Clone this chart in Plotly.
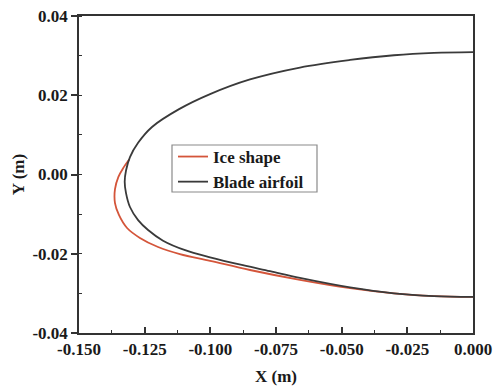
import plotly.graph_objects as go

# Blade airfoil leading-edge contour (m), upper surface -> nose -> lower surface
airfoil_x = [0.0000, -0.0149, -0.0301, -0.0468, -0.0659, -0.0849, -0.1001, -0.1119,
             -0.1222, -0.1275, -0.1306, -0.1321, -0.1326, -0.1321, -0.1306, -0.1275,
             -0.1237, -0.1180, -0.1096, -0.1001, -0.0876, -0.0773, -0.0659, -0.0468,
             -0.0301, -0.0149, 0.0000]
airfoil_y = [0.0309, 0.0307, 0.0301, 0.0289, 0.0270, 0.0240, 0.0203, 0.0165,
             0.0120, 0.0080, 0.0044, 0.0010, -0.0018, -0.0047, -0.0082, -0.0115,
             -0.0140, -0.0167, -0.0191, -0.0209, -0.0229, -0.0244, -0.0261, -0.0285,
             -0.0300, -0.0307, -0.0309]

# Ice accretion contour (m)
ice_x = [-0.1309, -0.1330, -0.1350, -0.1363, -0.1363, -0.1348, -0.1317, -0.1268,
         -0.1199, -0.1116, -0.1001, -0.0849, -0.0659, -0.0468, -0.0301, -0.0149, 0.0000]
ice_y = [0.0038, 0.0018, -0.0006, -0.0037, -0.0072, -0.0102, -0.0135, -0.0160,
         -0.0183, -0.0201, -0.0218, -0.0241, -0.0266, -0.0287, -0.0300, -0.0307, -0.0309]

x_ticks = [-0.150, -0.125, -0.100, -0.075, -0.050, -0.025, 0.000]
x_tick_labels = ["-0.150", "-0.125", "-0.100", "-0.075", "-0.050", "-0.025", "0.000"]
y_ticks = [-0.04, -0.02, 0.00, 0.02, 0.04]
y_tick_labels = ["-0.04", "-0.02", "0.00", "0.02", "0.04"]

font_family = "Liberation Serif"
axis_color = "#333333"
text_color = "#1a1a1a"


def bold(labels):
    return [f"<b>{t}</b>" for t in labels]


fig = go.Figure()
fig.add_trace(go.Scatter(x=ice_x, y=ice_y, mode="lines", name="<b>Ice shape</b>",
                         line=dict(color="#d4553a", width=1.8, shape="spline", smoothing=1.0)))
fig.add_trace(go.Scatter(x=airfoil_x, y=airfoil_y, mode="lines", name="<b>Blade airfoil</b>",
                         line=dict(color="#3a3a3a", width=1.8, shape="spline", smoothing=1.0)))

plot_l, plot_t, plot_w, plot_h = 79, 16, 394, 317


def px_to_paper(px, py):
    return (px - plot_l) / plot_w, 1 - (py - plot_t) / plot_h


# legend frame
bx0, by0 = px_to_paper(172, 145)
bx1, by1 = px_to_paper(317, 192)
fig.add_shape(type="rect", xref="paper", yref="paper", x0=bx0, y0=by1, x1=bx1, y1=by0,
              line=dict(color="#8a8a8a", width=1.2), fillcolor="rgba(0,0,0,0)", layer="above")

lx, ly = px_to_paper(173, 139)
fig.update_layout(
    width=493, height=388,
    margin=dict(l=plot_l, r=493 - plot_l - plot_w, t=plot_t, b=388 - plot_t - plot_h),
    paper_bgcolor="white", plot_bgcolor="white",
    font=dict(family=font_family, size=17, color=text_color),
    showlegend=True,
    legend=dict(x=lx, y=ly, xanchor="left", yanchor="top",
                borderwidth=0, bgcolor="rgba(0,0,0,0)",
                font=dict(family=font_family, size=17, color=text_color),
                tracegroupgap=0),
)

fig.update_xaxes(
    range=[-0.150, 0.000], tickvals=x_ticks, ticktext=bold(x_tick_labels),
    automargin=False,
    showgrid=False, zeroline=False,
    showline=True, linecolor=axis_color, linewidth=1.5, mirror=True,
    ticks="inside", ticklen=6, tickwidth=1.5, tickcolor=axis_color,
    minor=dict(dtick=0.0125, ticks="inside", ticklen=3, tickwidth=1.2, tickcolor=axis_color),
    tickfont=dict(family=font_family, size=17, color=text_color),
    title=dict(text="<b>X (m)</b>", font=dict(family=font_family, size=17), standoff=12),
)
fig.update_yaxes(
    range=[-0.04, 0.04], tickvals=y_ticks, ticktext=bold(y_tick_labels),
    automargin=False,
    showgrid=False, zeroline=False,
    showline=True, linecolor=axis_color, linewidth=1.5, mirror=True,
    ticks="outside", ticklen=6, tickwidth=1.5, tickcolor=axis_color,
    minor=dict(dtick=0.01, ticks="inside", ticklen=3, tickwidth=1.2, tickcolor=axis_color),
    tickfont=dict(family=font_family, size=17, color=text_color),
    title=dict(text="<b>Y (m)</b>", font=dict(family=font_family, size=17), standoff=3),
)

fig.write_html("out.html")
